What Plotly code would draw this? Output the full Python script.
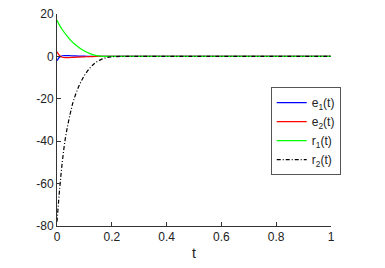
import plotly.graph_objects as go

t = [0, 0.01, 0.02, 0.03, 0.04, 0.05, 0.06, 0.08, 0.10, 0.12, 0.14, 0.16, 0.18, 0.20,
     0.25, 0.3, 0.4, 0.5, 0.6, 0.7, 0.8, 0.9, 1.0]
e1 = [-2.0, -0.3, 0.3, 0.4, 0.4, 0.3, 0.25, 0.15, 0.1, 0.05, 0.02, 0.01, 0, 0,
      0, 0, 0, 0, 0, 0, 0, 0, 0]
e2 = [2.2, 0.3, -0.4, -0.6, -0.6, -0.5, -0.45, -0.3, -0.2, -0.1, -0.05, -0.02, 0, 0,
      0, 0, 0, 0, 0, 0, 0, 0, 0]
r1 = [17.0, 14.5, 12.5, 10.7, 9.1, 7.6, 6.3, 4.2, 2.5, 1.3, 0.5, 0.1, 0, 0,
      0, 0, 0, 0, 0, 0, 0, 0, 0]
r2 = [-78.0, -62.0, -49.0, -39.0, -32.0, -26.0, -21.0, -14.0, -9.0, -5.5, -3.0, -1.5, -0.6, -0.2,
      0, 0, 0, 0, 0, 0, 0, 0, 0]

names = ["e<sub>1</sub>(t)", "e<sub>2</sub>(t)", "r<sub>1</sub>(t)", "r<sub>2</sub>(t)"]
x_ticks = [0, 0.2, 0.4, 0.6, 0.8, 1]
x_tick_labels = ["0", "0.2", "0.4", "0.6", "0.8", "1"]
y_ticks = [20, 0, -20, -40, -60, -80]
y_tick_labels = ["20", "0", "-20", "-40", "-60", "-80"]

fig = go.Figure()
styles = [("#0000ff", "solid"), ("#ff0000", "solid"), ("#00ff00", "solid"), ("#000000", "4px,2px,1px,2px")]
for y, name, (c, d) in zip([e1, e2, r1, r2], names, styles):
    fig.add_trace(go.Scatter(x=t, y=y, mode="lines", name=name,
                             line=dict(color=c, width=1.2, dash=d, shape="spline")))

axis_common = dict(showgrid=False, zeroline=False, showline=True, linecolor="#333333",
                   linewidth=1, ticks="inside", ticklen=4, tickcolor="#333333",
                   ticklabeloverflow="allow", automargin=False,
                   tickfont=dict(family="Liberation Sans, Arial", size=12, color="#222222"))
fig.update_xaxes(range=[0, 1], tickvals=x_ticks, ticktext=x_tick_labels,
                 title=dict(text="t", font=dict(family="Liberation Sans, Arial", size=14, color="#222222"),
                            standoff=4),
                 **axis_common)
fig.update_yaxes(range=[-80, 20], tickvals=y_ticks, ticktext=y_tick_labels, **axis_common)

fig.update_layout(
    width=377, height=260,
    margin=dict(l=49, r=54, t=6, b=42, autoexpand=False),
    plot_bgcolor="white", paper_bgcolor="white",
    font=dict(family="Liberation Sans, Arial", size=12, color="#222222"),
    legend=dict(x=0.78, y=0.655, xanchor="left", yanchor="top",
                bgcolor="white", bordercolor="#555555", borderwidth=1,
                font=dict(size=12), tracegroupgap=0, itemwidth=30),
    showlegend=True,
)
fig.write_html("out.html")
